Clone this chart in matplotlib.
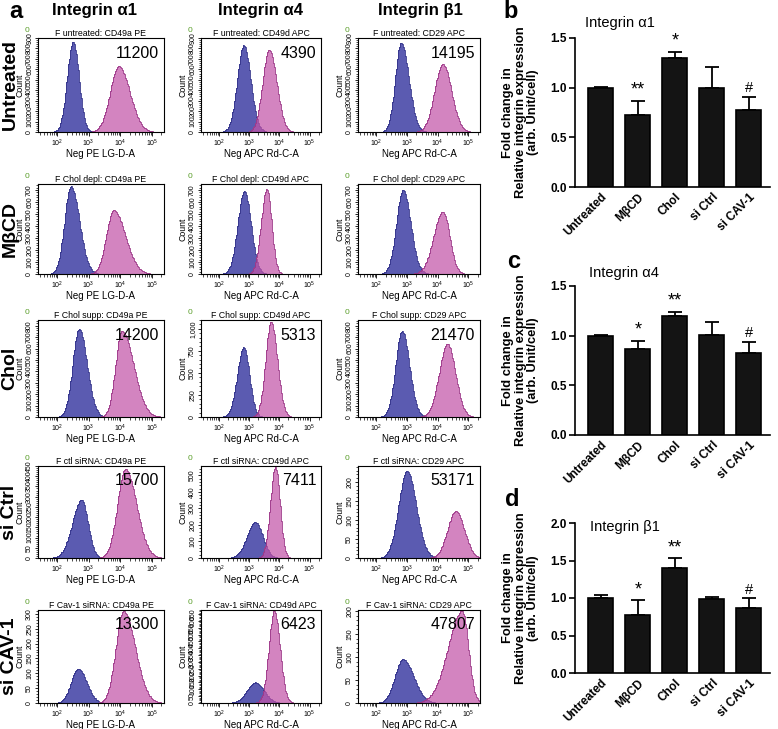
import numpy as np
import matplotlib
matplotlib.use('Agg')
import matplotlib.pyplot as plt
from matplotlib.ticker import MultipleLocator, LogLocator, AutoMinorLocator, FuncFormatter, FormatStrFormatter

plt.rcParams['font.family'] = ['Liberation Sans', 'DejaVu Sans']

W, H = 778, 729  # figure size in pixels

# ---------------- panel a: flow cytometry histograms ----------------
row_names = ['Untreated', 'MβCD', 'Chol', 'si Ctrl', 'si CAV-1']
col_names = ['Integrin α1', 'Integrin α4', 'Integrin β1']
sample_tags = ['F untreated', 'F Chol depl', 'F Chol supp', 'F ctl siRNA', 'F Cav-1 siRNA']
markers = ['CD49a PE', 'CD49d APC', 'CD29 APC']
hist_xlabels = ['Neg PE LG-D-A', 'Neg APC Rd-C-A', 'Neg APC Rd-C-A']

mfi_text = [['11200', '4390', '14195'],
            ['', '', ''],
            ['14200', '5313', '21470'],
            ['15700', '7411', '53171'],
            ['13300', '6423', '47807']]

# negative control population (blue): log10 peak, left/right spread, peak count
neg_peak = [[2.51, 2.82, 2.81], [2.44, 2.84, 2.87], [2.70, 2.82, 2.84], [2.78, 3.21, 3.00], [2.67, 3.21, 2.87]]
neg_wl = [[0.185, 0.215, 0.19], [0.20, 0.22, 0.215], [0.20, 0.215, 0.21], [0.29, 0.28, 0.27], [0.22, 0.28, 0.26]]
neg_wr = [[0.185, 0.23, 0.25], [0.27, 0.22, 0.25], [0.25, 0.19, 0.24], [0.20, 0.24, 0.30], [0.27, 0.28, 0.35]]
neg_count = [[865, 830, 855], [730, 690, 700], [775, 790, 755], [285, 217, 230], [116, 150, 95]]

# stained population (pink)
pos_peak = [[3.95, 3.66, 4.17], [3.79, 3.58, 4.17], [4.05, 3.72, 4.32], [4.16, 3.87, 4.59], [4.10, 3.83, 4.80]]
pos_wl = [[0.27, 0.215, 0.27], [0.23, 0.185, 0.30], [0.20, 0.18, 0.27], [0.25, 0.17, 0.27], [0.24, 0.18, 0.46]]
pos_wr = [[0.35, 0.25, 0.28], [0.37, 0.16, 0.22], [0.37, 0.21, 0.26], [0.35, 0.15, 0.28], [0.37, 0.19, 0.20]]
pos_count = [[630, 790, 650], [530, 710, 520], [755, 1080, 640], [435, 550, 123], [310, 675, 200]]

y_max = [[900, 900, 900], [750, 750, 750], [850, 1100, 850], [450, 556, 242], [313, 680, 202]]
y_step = [[100, 100, 100], [100, 100, 100], [100, 250, 100], [50, 100, 50], [50, 50, 50]]

# ---------------- panels b-d: bar charts ----------------
groups = ['Untreated', 'MβCD', 'Chol', 'si Ctrl', 'si CAV-1']
a1_mean = [1.00, 0.72, 1.30, 1.00, 0.78]
a1_err = [0.01, 0.15, 0.06, 0.21, 0.13]
a1_sig = ['', '**', '*', '', '#']
a4_mean = [1.00, 0.87, 1.20, 1.01, 0.83]
a4_err = [0.01, 0.08, 0.04, 0.13, 0.11]
a4_sig = ['', '*', '**', '', '#']
b1_mean = [1.00, 0.78, 1.40, 0.99, 0.87]
b1_err = [0.04, 0.19, 0.13, 0.03, 0.13]
b1_sig = ['', '*', '**', '', '#']


def rect(x0, y0, x1, y1):
    return [x0 / W, 1 - y1 / H, (x1 - x0) / W, (y1 - y0) / H]


def ftext(x, y, s, **kw):
    fig.text(x / W, 1 - y / H, s, **kw)


def pop_curve(mids, c, wl, wr, h):
    w = np.where(mids < c, wl, wr)
    return h * np.exp(-0.5 * ((mids - c) / w) ** 2)


fig = plt.figure(figsize=(W / 100, H / 100), dpi=100)

col_x = [(38, 164), (201, 321), (358, 480)]
row_y = [(38, 132), (184, 274), (320, 417), (466, 558), (610, 703)]
edges = np.linspace(1.4, 5.38, 200)
mids = (edges[:-1] + edges[1:]) / 2

for r in range(5):
    for c in range(3):
        ax = fig.add_axes(rect(col_x[c][0], row_y[r][0], col_x[c][1], row_y[r][1]))
        yn = pop_curve(mids, neg_peak[r][c], neg_wl[r][c], neg_wr[r][c], neg_count[r][c])
        yp = pop_curve(mids, pos_peak[r][c], pos_wl[r][c], pos_wr[r][c], pos_count[r][c])
        ax.stairs(yn, 10 ** edges, fill=True, color='#5252ad', alpha=0.95)
        ax.stairs(yn, 10 ** edges, color='#33338a', lw=0.6)
        ax.stairs(yp, 10 ** edges, fill=True, color='#c255a8', alpha=0.72)
        ax.stairs(yp, 10 ** edges, color='#9a3586', lw=0.6)
        ax.set_xscale('log')
        ax.set_xlim(10 ** 1.4, 10 ** 5.38)
        ax.set_ylim(0, y_max[r][c])
        ax.xaxis.set_major_locator(LogLocator(base=10, numticks=10))
        ax.yaxis.set_major_locator(MultipleLocator(y_step[r][c]))
        ax.yaxis.set_major_formatter(FuncFormatter(lambda v, p: '{:,.0f}'.format(v)))
        ax.yaxis.set_minor_locator(AutoMinorLocator(5))
        ax.tick_params(axis='x', which='major', labelsize=5, length=3, width=0.6, pad=1)
        ax.tick_params(axis='x', which='minor', length=1.8, width=0.5)
        ax.tick_params(axis='y', which='major', labelsize=5, length=2.5, width=0.6, pad=1, labelrotation=90)
        ax.tick_params(axis='y', which='minor', length=1.5, width=0.5)
        for lab in ax.get_yticklabels():
            lab.set_va('center')
        for sp in ax.spines.values():
            sp.set_linewidth(0.8)
        ax.set_title(sample_tags[r] + ': ' + markers[c], fontsize=6.3, pad=1.5)
        ax.set_xlabel(hist_xlabels[c], fontsize=7, labelpad=0)
        ax.set_ylabel('Count', fontsize=6.3, labelpad=1)
        if mfi_text[r][c]:
            ax.text(0.96, 0.92, mfi_text[r][c], transform=ax.transAxes,
                    ha='right', va='top', fontsize=11.5)
        ftext(col_x[c][0] - 11, row_y[r][0] - 7, '0', color='#5a9e2a', fontsize=6,
              ha='center', va='center')
    ftext(10, (row_y[r][0] + row_y[r][1]) / 2, row_names[r], rotation=90,
          fontsize=14, weight='bold', ha='center', va='center')

for c, name in enumerate(col_names):
    ftext([94, 260, 420][c], 11, name, fontsize=12, weight='bold', ha='center', va='center')

ftext(16, 12, 'a', fontsize=17, weight='bold', ha='center', va='center')

# bar panels
bar_panels = [
    ('b', 'Integrin α1', a1_mean, a1_err, a1_sig, (38, 187), 1.5, (511, 12), (585, 23)),
    ('c', 'Integrin α4', a4_mean, a4_err, a4_sig, (286, 435), 1.5, (514, 262), (589, 273)),
    ('d', 'Integrin β1', b1_mean, b1_err, b1_sig, (523, 673), 2.0, (512, 500), (590, 527)),
]
x = np.arange(len(groups))
for letter, title, mean, err, sig, (ytop, ybot), ymax, lpos, tpos in bar_panels:
    ax = fig.add_axes(rect(575, ytop, 770, ybot))
    ax.bar(x, mean, width=0.68, color='#141414', edgecolor='black', linewidth=1.2, zorder=2)
    ax.errorbar(x, mean, yerr=[np.zeros(len(err)), err], fmt='none', ecolor='black',
                elinewidth=1.3, capsize=5, capthick=1.3, zorder=1)
    for i, s in enumerate(sig):
        if s:
            fs = 13 if '*' in s else 10.5
            ax.text(x[i], mean[i] + err[i] + 0.02, s, ha='center', va='bottom', fontsize=fs)
    ax.set_xlim(-0.70, 4.57)
    ax.set_ylim(0, ymax)
    ax.yaxis.set_major_locator(MultipleLocator(0.5))
    ax.yaxis.set_major_formatter(FormatStrFormatter('%.1f'))
    ax.set_xticks(x)
    ax.set_xticklabels(groups, rotation=45, ha='right', rotation_mode='anchor',
                       fontsize=8.5, weight='bold')
    for lab in ax.get_yticklabels():
        lab.set_fontweight('bold')
    ax.tick_params(axis='y', labelsize=8.5, length=4, width=1.2, pad=2)
    ax.tick_params(axis='x', length=0, pad=3)
    ax.spines['top'].set_visible(False)
    ax.spines['right'].set_visible(False)
    ax.spines['left'].set_linewidth(1.2)
    ax.spines['bottom'].set_linewidth(1.2)
    ax.set_ylabel('Fold change in\nRelative integrin expression\n(arb. Unit/cell)',
                  fontsize=9.3, weight='bold', labelpad=8, linespacing=1.05)
    ftext(lpos[0], lpos[1], letter, fontsize=17, weight='bold', ha='center', va='center')
    ftext(tpos[0], tpos[1], title, fontsize=10.5, ha='left', va='center')

fig.savefig('out.png', dpi=100)
